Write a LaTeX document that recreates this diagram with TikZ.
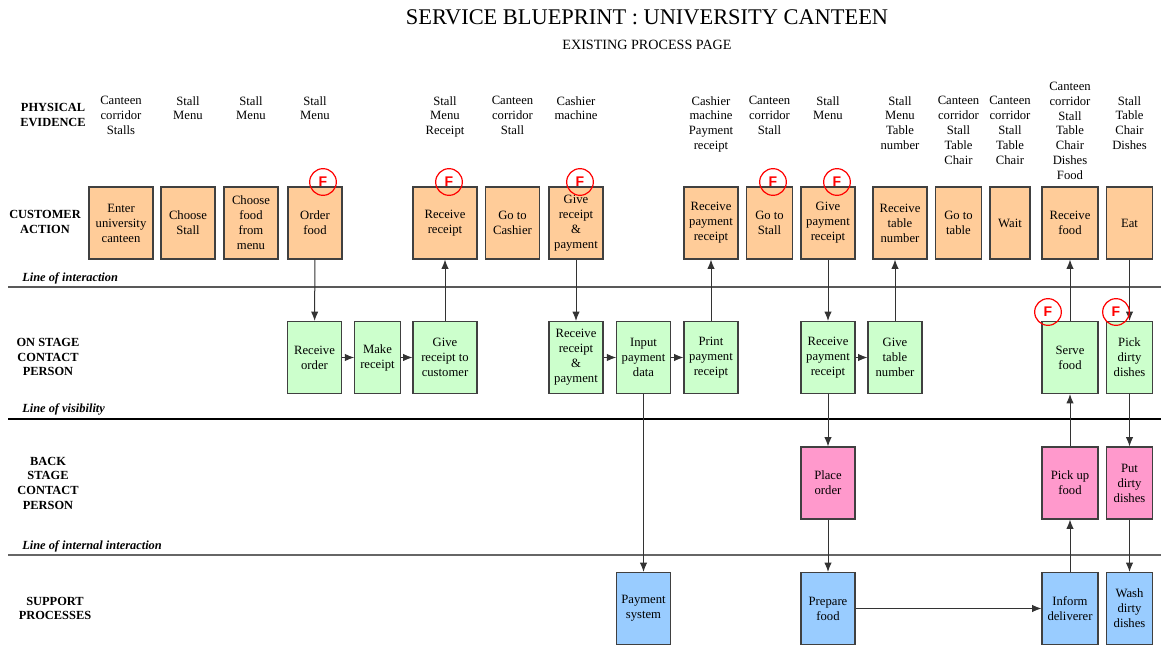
\documentclass[tikz,border=0pt]{standalone}
\usepackage{fontspec}
\setmainfont{Liberation Serif}
\newfontfamily\fsans{Liberation Sans}
\usetikzlibrary{arrows.meta}
\definecolor{custfill}{HTML}{FFCC99}
\definecolor{onfill}{HTML}{CCFFCC}
\definecolor{backfill}{HTML}{FF99CC}
\definecolor{suppfill}{HTML}{99CCFF}
\tikzset{
	txt/.style={font=\fontsize{9.5}{11.2}\selectfont, align=center, inner sep=0pt},
	rowlbl/.style={font=\fontsize{9.3}{11}\selectfont\bfseries, align=center, inner sep=0pt},
	linelbl/.style={font=\fontsize{9.3}{11}\selectfont\bfseries\itshape, anchor=west, inner sep=0pt},
	blk/.style={txt, draw=black!75, line width=0.8pt, minimum height=54pt},
	cust/.style={blk, fill=custfill},
	onst/.style={blk, fill=onfill},
	back/.style={blk, fill=backfill},
	supp/.style={blk, fill=suppfill},
	fcirc/.style={circle, draw=red, line width=0.9pt, minimum size=20pt, inner sep=0pt, text=red, font=\fsans\fontsize{10.5}{11}\selectfont\bfseries},
	link/.style={-{Latex[length=7pt,width=5.5pt]}, line width=0.75pt, draw=black!80},
}
\begin{document}
\begin{tikzpicture}[x=0.75pt, y=-0.75pt]
			%%%%% START %%%%%
			\useasboundingbox (0, 0) rectangle (1161, 645);
			
			\node[font=\fontsize{16.8}{18}\selectfont, inner sep=0pt] (title) at (647, 17.5) {SERVICE BLUEPRINT : UNIVERSITY CANTEEN};
			\node[font=\fontsize{10.6}{12}\selectfont, inner sep=0pt] (subtitle) at (647, 45) {EXISTING PROCESS PAGE};
			
			%% row labels
			\node[rowlbl] (lphys) at (53, 115) {PHYSICAL\\EVIDENCE};
			\node[rowlbl] (lcust) at (45, 222) {CUSTOMER\\ACTION};
			\node[rowlbl] (lon) at (48, 357) {ON STAGE\\CONTACT\\PERSON};
			\node[rowlbl] (lback) at (48, 483) {BACK\\STAGE\\CONTACT\\PERSON};
			\node[rowlbl] (lsupp) at (55, 608.5) {SUPPORT\\PROCESSES};
			
			%% lines
			\draw[line width=0.8pt, color=black!65] (8, 287) -- (1161, 287);
			\draw[line width=0.8pt, color=black] (8, 419) -- (1161, 419);
			\draw[line width=1.3pt, color=black!60] (8, 555) -- (1161, 555);
			\node[linelbl] (lint) at (22, 278) {Line of interaction};
			\node[linelbl] (lvis) at (22, 409) {Line of visibility};
			\node[linelbl] (lintern) at (22, 546) {Line of internal interaction};
			
			%% physical evidence
			\node[txt, anchor=north] (pe1) at (121, 96) {Canteen\\corridor\\Stalls};
			\node[txt, anchor=north] (pe2) at (188, 96) {Stall\\Menu};
			\node[txt, anchor=north] (pe3) at (251, 96) {Stall\\Menu};
			\node[txt, anchor=north] (pe4) at (315, 96) {Stall\\Menu};
			\node[txt, anchor=north] (pe5) at (445, 96) {Stall\\Menu\\Receipt};
			\node[txt, anchor=north] (pe6) at (512.5, 96) {Canteen\\corridor\\Stall};
			\node[txt, anchor=north] (pe7) at (576, 96) {Cashier\\machine};
			\node[txt, anchor=north] (pe8) at (711, 96) {Cashier\\machine\\Payment\\receipt};
			\node[txt, anchor=north] (pe9) at (769.5, 96) {Canteen\\corridor\\Stall};
			\node[txt, anchor=north] (pe10) at (828, 96) {Stall\\Menu};
			\node[txt, anchor=north] (pe11) at (900, 96) {Stall\\Menu\\Table\\number};
			\node[txt, anchor=north] (pe12) at (958.5, 96) {Canteen\\corridor\\Stall\\Table\\Chair};
			\node[txt, anchor=north] (pe13) at (1010, 96) {Canteen\\corridor\\Stall\\Table\\Chair};
			\node[txt, anchor=north] (pe14) at (1070, 81.5) {Canteen\\corridor\\Stall\\Table\\Chair\\Dishes\\Food};
			\node[txt, anchor=north] (pe15) at (1129.5, 96) {Stall\\Table\\Chair\\Dishes};
			
			%% customer action
			\node[cust, minimum width=48pt] (enter) at (121, 223) {Enter\\university\\canteen};
			\node[cust, minimum width=40.5pt] (chstall) at (188, 223) {Choose\\Stall};
			\node[cust, minimum width=40.5pt] (chfood) at (251, 223) {Choose\\food\\from\\menu};
			\node[cust, minimum width=40.5pt] (order) at (315, 223) {Order\\food};
			\node[cust, minimum width=48pt] (getrcpt) at (445, 223) {Receive\\receipt};
			\node[cust, minimum width=40pt] (tocash) at (512.5, 223) {Go to\\Cashier};
			\node[cust, minimum width=40.5pt] (givepay) at (576, 223) {Give\\receipt\\\&\\payment};
			\node[cust, minimum width=40.5pt] (getpayr) at (711, 223) {Receive\\payment\\receipt};
			\node[cust, minimum width=34pt] (tostall) at (769.5, 223) {Go to\\Stall};
			\node[cust, minimum width=40.5pt] (givepayr) at (828, 223) {Give\\payment\\receipt};
			\node[cust, minimum width=40.5pt] (gettbl) at (900, 223) {Receive\\table\\number};
			\node[cust, minimum width=34pt] (totbl) at (958.5, 223) {Go to\\table};
			\node[cust, minimum width=30pt] (wait) at (1010, 223) {Wait};
			\node[cust, minimum width=42pt] (getfood) at (1070, 223) {Receive\\food};
			\node[cust, minimum width=34pt] (eat) at (1129.5, 223) {Eat};
			
			%% on stage
			\node[onst, minimum width=41pt] (rorder) at (314.5, 357.5) {Receive\\order};
			\node[onst, minimum width=34pt] (mkrcpt) at (377.5, 357.5) {Make\\receipt};
			\node[onst, minimum width=48pt] (givercpt) at (445, 357.5) {Give\\receipt to\\customer};
			\node[onst, minimum width=40.5pt] (rpay) at (576, 357.5) {Receive\\receipt\\\&\\payment};
			\node[onst, minimum width=40pt] (input) at (643.5, 357.5) {Input\\payment\\data};
			\node[onst, minimum width=40.5pt] (print) at (711, 357.5) {Print\\payment\\receipt};
			\node[onst, minimum width=40.5pt] (rpayr) at (828, 357.5) {Receive\\payment\\receipt};
			\node[onst, minimum width=40.5pt] (givetbl) at (895, 357.5) {Give\\table\\number};
			\node[onst, minimum width=42pt] (serve) at (1070, 357.5) {Serve\\food};
			\node[onst, minimum width=34pt] (pick) at (1129.5, 357.5) {Pick\\dirty\\dishes};
			
			%% back stage
			\node[back, minimum width=40.5pt] (place) at (828, 483) {Place\\order};
			\node[back, minimum width=42pt] (pickup) at (1070, 483) {Pick up\\food};
			\node[back, minimum width=34pt] (put) at (1129.5, 483) {Put\\dirty\\dishes};
			
			%% support
			\node[supp, minimum width=40pt] (paysys) at (643.5, 608.5) {Payment\\system};
			\node[supp, minimum width=40.5pt] (prep) at (828, 608.5) {Prepare\\food};
			\node[supp, minimum width=42pt] (inform) at (1070, 608.5) {Inform\\deliverer};
			\node[supp, minimum width=34pt] (wash) at (1129.5, 608.5) {Wash\\dirty\\dishes};
			
			%% connectors
			\draw[link] (order) -- (rorder);
			\draw[link] (rorder) -- (mkrcpt);
			\draw[link] (mkrcpt) -- (givercpt);
			\draw[link] (givercpt) -- (getrcpt);
			\draw[link] (givepay) -- (rpay);
			\draw[link] (rpay) -- (input);
			\draw[link] (input) -- (print);
			\draw[link] (print) -- (getpayr);
			\draw[link] (input) -- (paysys);
			\draw[link] (givepayr) -- (rpayr);
			\draw[link] (rpayr) -- (givetbl);
			\draw[link] (givetbl.north) -- (givetbl.north |- gettbl.south);
			\draw[link] (rpayr) -- (place);
			\draw[link] (place) -- (prep);
			\draw[link] (prep) -- (inform);
			\draw[link] (inform) -- (pickup);
			\draw[link] (pickup) -- (serve);
			\draw[link] (serve) -- (getfood);
			\draw[link] (eat) -- (pick);
			\draw[link] (pick) -- (put);
			\draw[link] (put) -- (wash);
			
			%% fail points
			\node[fcirc] (f1) at (323, 182) {F};
			\node[fcirc] (f2) at (449, 182) {F};
			\node[fcirc] (f3) at (580, 182) {F};
			\node[fcirc] (f4) at (773, 182) {F};
			\node[fcirc] (f5) at (837, 182) {F};
			\node[fcirc] (f6) at (1048, 312) {F};
			\node[fcirc] (f7) at (1116, 312) {F};
			
			%%%%% END %%%%%
		\end{tikzpicture}
\end{document}
